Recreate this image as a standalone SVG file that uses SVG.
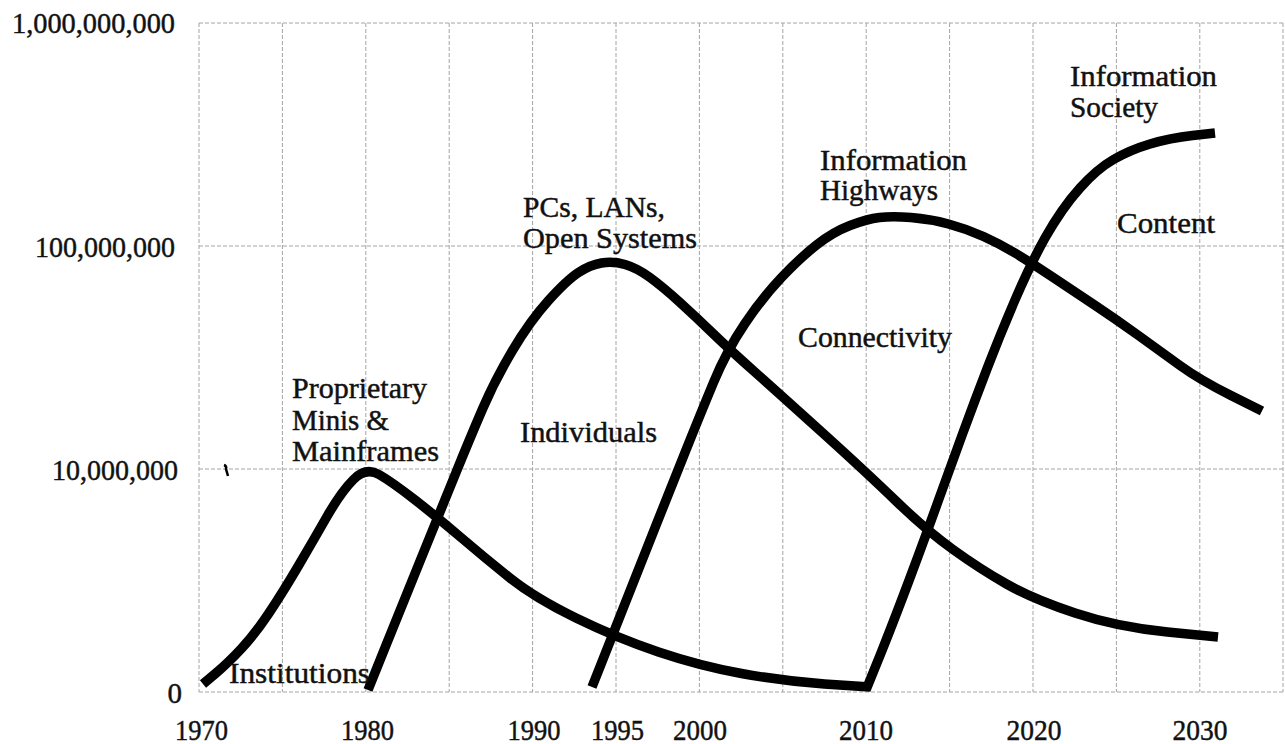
<svg xmlns="http://www.w3.org/2000/svg" width="1285" height="744" viewBox="0 0 1285 744">
<style>
.grid{stroke:#a4a4a4;stroke-width:1;stroke-dasharray:4 2;fill:none}
.curve{stroke:#000;stroke-width:9.5;fill:none;stroke-linecap:butt;stroke-linejoin:round}
.ax{font-family:"Liberation Serif","Times New Roman",serif;font-size:29px;fill:#111;stroke:#111;stroke-width:0.45}
.lbl{font-family:"Liberation Serif","Times New Roman",serif;font-size:28.5px;fill:#111;stroke:#111;stroke-width:0.45}
</style>
<rect width="1285" height="744" fill="#fff"/>
<g id="grid">
<line class="grid" x1="199" y1="23" x2="1283" y2="23"/>
<line class="grid" x1="199" y1="246" x2="1283" y2="246"/>
<line class="grid" x1="199" y1="469" x2="1283" y2="469"/>
<line class="grid" x1="199" y1="692" x2="1283" y2="692"/>
<line class="grid" x1="199" y1="23" x2="199" y2="692"/>
<line class="grid" x1="282.4" y1="23" x2="282.4" y2="692"/>
<line class="grid" x1="365.8" y1="23" x2="365.8" y2="692"/>
<line class="grid" x1="449.2" y1="23" x2="449.2" y2="692"/>
<line class="grid" x1="532.6" y1="23" x2="532.6" y2="692"/>
<line class="grid" x1="616" y1="23" x2="616" y2="692"/>
<line class="grid" x1="699.4" y1="23" x2="699.4" y2="692"/>
<line class="grid" x1="782.8" y1="23" x2="782.8" y2="692"/>
<line class="grid" x1="866.2" y1="23" x2="866.2" y2="692"/>
<line class="grid" x1="949.6" y1="23" x2="949.6" y2="692"/>
<line class="grid" x1="1033" y1="23" x2="1033" y2="692"/>
<line class="grid" x1="1116.4" y1="23" x2="1116.4" y2="692"/>
<line class="grid" x1="1199.8" y1="23" x2="1199.8" y2="692"/>
<line class="grid" x1="1283" y1="23" x2="1283" y2="692"/>
</g>
<g id="y-axis">
<text class="ax" x="175" y="33" text-anchor="end" textLength="163" lengthAdjust="spacingAndGlyphs">1,000,000,000</text>
<text class="ax" x="175" y="257" text-anchor="end" textLength="140" lengthAdjust="spacingAndGlyphs">100,000,000</text>
<text class="ax" x="178" y="480" text-anchor="end" textLength="126" lengthAdjust="spacingAndGlyphs">10,000,000</text>
<text class="ax" x="182" y="703" text-anchor="end">0</text>
</g>
<g id="x-axis">
<text class="ax" x="201.5" y="740" text-anchor="middle" textLength="53" lengthAdjust="spacingAndGlyphs">1970</text>
<text class="ax" x="367.5" y="740" text-anchor="middle" textLength="53" lengthAdjust="spacingAndGlyphs">1980</text>
<text class="ax" x="534" y="740" text-anchor="middle" textLength="53" lengthAdjust="spacingAndGlyphs">1990</text>
<text class="ax" x="617.5" y="740" text-anchor="middle" textLength="53" lengthAdjust="spacingAndGlyphs">1995</text>
<text class="ax" x="700" y="740" text-anchor="middle" textLength="54" lengthAdjust="spacingAndGlyphs">2000</text>
<text class="ax" x="866" y="740" text-anchor="middle" textLength="54" lengthAdjust="spacingAndGlyphs">2010</text>
<text class="ax" x="1034" y="740" text-anchor="middle" textLength="55" lengthAdjust="spacingAndGlyphs">2020</text>
<text class="ax" x="1200" y="740" text-anchor="middle" textLength="55" lengthAdjust="spacingAndGlyphs">2030</text>
</g>
<g id="curves">
<path id="curve-institutions" class="curve" d="M203,684 L215.5,673.5 Q228,663 241.5,648.5 Q255,634 269,613 Q283,592 298,566.5 Q313,541 327,516.5 Q341,492 353.5,479.5 Q366,467 379,474.5 Q392,482 414.5,499.5 Q437,517 461,537.5 Q485,558 510,578 Q535,598 576,618 Q617,638 658.5,652 Q700,666 741.5,673.5 Q783,681 824.5,684 L870,687"/>
<path id="curve-individuals" class="curve" d="M368,690 L386.5,644 Q405,598 422.5,555 Q440,512 455,475 Q470,438 482.5,409 Q495,380 512.5,350.5 Q530,321 548.5,300.5 Q567,280 578.5,272.5 Q590,265 601.5,263 Q613,261 625,264.5 Q637,268 650,277.5 Q663,287 680,302.5 Q697,318 713,333.5 Q729,349 756,373 Q783,397 825,435 Q867,473 896.5,501.5 Q926,530 953,549.5 Q980,569 1006.5,584 Q1033,599 1075,613 Q1117,627 1167.5,632 L1218,637"/>
<path id="curve-connectivity" class="curve" d="M592,687 L602.5,660.5 Q613,634 628,596 Q643,558 656.5,524 Q670,490 685,452.5 Q700,415 713.5,382.5 Q727,350 745,323.5 Q763,297 781.5,277.5 Q800,258 816.5,245 Q833,232 850,225.5 Q867,219 879.5,217.5 Q892,216 911,217.5 Q930,219 948.5,224 Q967,229 983.5,236.5 Q1000,244 1015,253 Q1030,262 1052.5,277 Q1075,292 1096,306 Q1117,320 1138.5,335.5 Q1160,351 1180,365.5 Q1200,380 1231,395.5 L1262,411"/>
<path id="curve-content" class="curve" d="M866,690 L881,653 Q895,618 910.5,576.5 Q926,535 938,501.5 Q950,468 962.5,434 Q975,400 987.5,367.5 Q1000,335 1015,300 Q1030,265 1045,238 Q1062,208 1080,188 Q1097,169 1113.5,159.5 Q1130,150 1150,144 Q1170,138 1192.5,135.5 L1215,133"/>
<path id="tick" d="M224,465 Q227,466 226,469 L228,476" stroke="#000" stroke-width="2.5" fill="none"/>
</g>
<g id="label-institutions"><text class="lbl" x="229" y="683" textLength="141" lengthAdjust="spacingAndGlyphs">Institutions</text></g>
<g id="label-proprietary">
<text class="lbl" x="292" y="398" textLength="135" lengthAdjust="spacingAndGlyphs">Proprietary</text>
<text class="lbl" x="292" y="430" textLength="97" lengthAdjust="spacingAndGlyphs">Minis &amp;</text>
<text class="lbl" x="292" y="461" textLength="147" lengthAdjust="spacingAndGlyphs">Mainframes</text>
</g>
<g id="label-individuals"><text class="lbl" x="520" y="442" textLength="137" lengthAdjust="spacingAndGlyphs">Individuals</text></g>
<g id="label-pcs">
<text class="lbl" x="523" y="217" textLength="142" lengthAdjust="spacingAndGlyphs">PCs, LANs,</text>
<text class="lbl" x="523" y="248" textLength="174" lengthAdjust="spacingAndGlyphs">Open Systems</text>
</g>
<g id="label-highways">
<text class="lbl" x="820" y="170" textLength="147" lengthAdjust="spacingAndGlyphs">Information</text>
<text class="lbl" x="820" y="200" textLength="118" lengthAdjust="spacingAndGlyphs">Highways</text>
</g>
<g id="label-connectivity"><text class="lbl" x="798" y="347" textLength="154" lengthAdjust="spacingAndGlyphs">Connectivity</text></g>
<g id="label-society">
<text class="lbl" x="1070" y="86" textLength="147" lengthAdjust="spacingAndGlyphs">Information</text>
<text class="lbl" x="1070" y="117" textLength="88" lengthAdjust="spacingAndGlyphs">Society</text>
</g>
<g id="label-content"><text class="lbl" x="1117" y="233" textLength="98" lengthAdjust="spacingAndGlyphs">Content</text></g>
</svg>
